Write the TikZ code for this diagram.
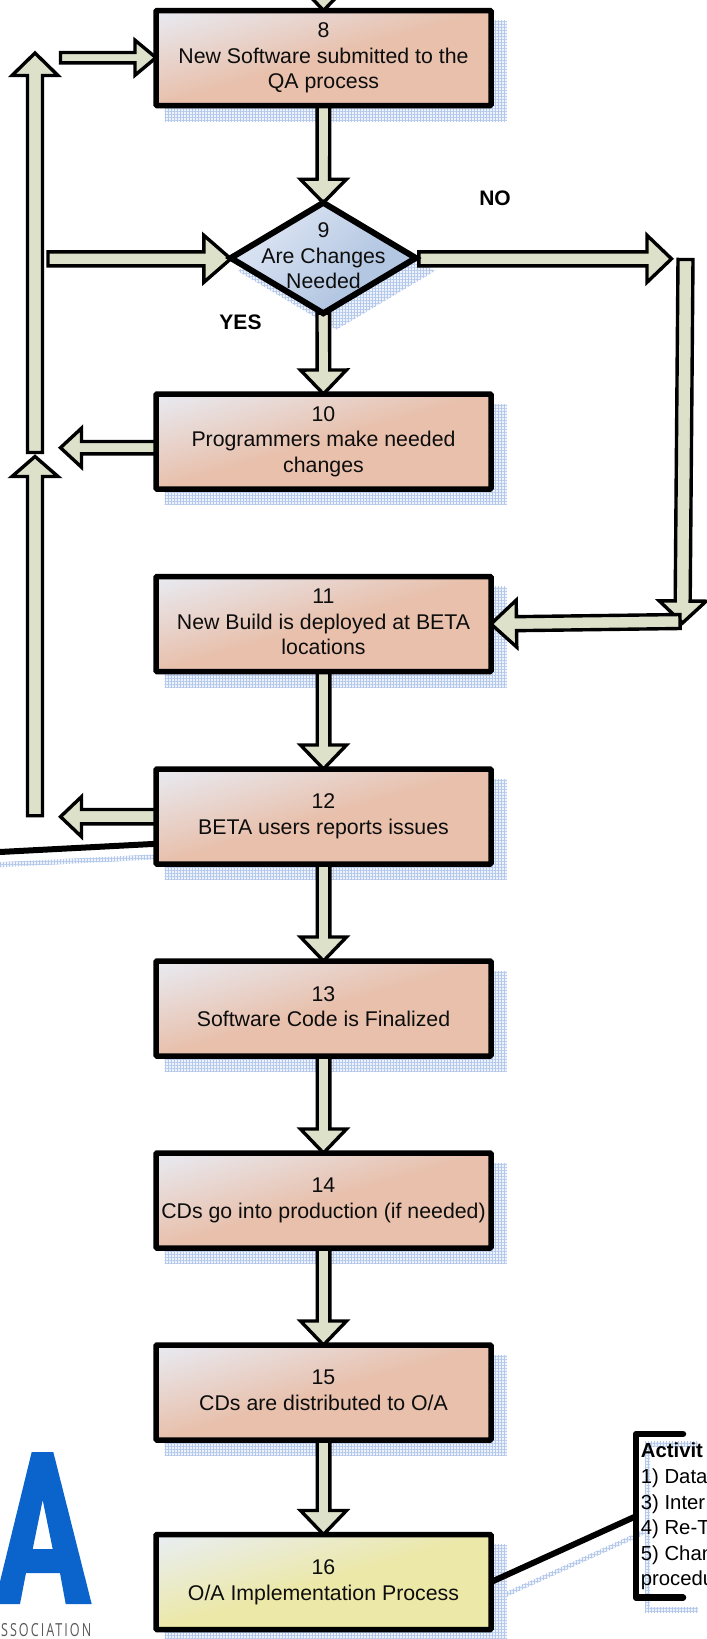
\documentclass[tikz,border=0pt]{standalone}
\usepackage{fontspec}
\setmainfont{Liberation Sans}
\newfontfamily\logofont[LetterSpace=16]{Open Sans}
\usetikzlibrary{calc,shapes.geometric,patterns.meta}
\definecolor{palepeach}{HTML}{E8EBF3}
\definecolor{peach}{HTML}{E8C0AC}
\definecolor{paleyellow}{HTML}{E8EEF4}
\definecolor{yellowish}{HTML}{ECE8A8}
\definecolor{paleblue}{HTML}{DEE6F4}
\definecolor{midblue}{HTML}{B4C7E2}
\definecolor{arrowfill}{HTML}{DDE1C9}
\definecolor{shadowgrid}{HTML}{B3C8EA}
\definecolor{shadowbase}{HTML}{EEF3FB}
\definecolor{logoblue}{HTML}{0A64CC}
\pgfdeclareverticalshading{peachshade}{100bp}{color(0bp)=(palepeach); color(19bp)=(palepeach); color(50bp)=(peach); color(100bp)=(peach)}
\pgfdeclareverticalshading{yellowshade}{100bp}{color(0bp)=(paleyellow); color(19bp)=(paleyellow); color(50bp)=(yellowish); color(100bp)=(yellowish)}
\pgfdeclareverticalshading{blueshade}{100bp}{color(0bp)=(paleblue); color(25bp)=(paleblue); color(62bp)=(midblue); color(100bp)=(midblue)}
\pgfdeclarelayer{shadowlayer}
\pgfdeclarelayer{arrowlayer}
\pgfsetlayers{shadowlayer,arrowlayer,main}
\newcommand{\firstlinerule}{\rule{0pt}{22pt}}
\newcommand{\lastlinerule}{\rule[-4.2pt]{0pt}{4.2pt}}
\tikzset{
  flowtext/.style={inner sep=0pt,align=center,text=black!95,font=\fontsize{21.3}{25.6}\selectfont,
    execute at begin node=\firstlinerule,execute at end node=\lastlinerule},
  flowbox/.style={flowtext,draw=black,line width=5.5pt,rounded corners=1pt,minimum width=335pt,minimum height=95pt,
    outer sep=0pt,shade,shading=peachshade,shading angle=-164},
  implbox/.style={flowbox,shading=yellowshade},
  decision/.style={diamond,draw=black,line width=6pt,minimum width=185pt,minimum height=110.5pt,aspect=1.67,
    inner sep=0pt,outer sep=0pt,shade,shading=blueshade,shading angle=-135},
  answer/.style={inner sep=0pt,text=black,font=\bfseries\fontsize{21}{24}\selectfont},
  activity/.style={inner sep=0pt,anchor=base west,text=black,font=\fontsize{20.3}{25.6}\selectfont},
  blockline/.style={draw=black,fill=arrowfill,line width=3.4pt,line join=miter,miter limit=10},
  leader/.style={draw=black,line width=6pt},
  shbase/.style={fill=shadowbase},
  shlineh/.style={pattern={Lines[angle=0,distance=3pt,line width=1pt]},pattern color=shadowgrid},
  shlinev/.style={pattern={Lines[angle=90,distance=3pt,line width=1pt]},pattern color=shadowgrid},
}
\newcommand{\softshadow}[1]{\fill[shbase] #1; \fill[shlineh] #1; \fill[shlinev] #1;}
\newcommand{\boxshadow}[1]{\softshadow{($(#1.north west)+(8.5,10.25)$) rectangle ($(#1.south east)+(15.75,15.75)$)}}
% from, to, shaft half width, head half width, head length
\newcommand{\blockarrow}[5]{\draw[blockline]
  ($(#1)!#3pt!90:(#2)$) --
  ($(#2)!#5pt!(#1)!#3pt!90:(#2)$) --
  ($(#2)!#5pt!(#1)!#4pt!90:(#2)$) --
  (#2) --
  ($(#2)!#5pt!(#1)!#4pt!-90:(#2)$) --
  ($(#2)!#5pt!(#1)!#3pt!-90:(#2)$) --
  ($(#1)!#3pt!-90:(#2)$) -- cycle;}
\begin{document}
\begin{tikzpicture}[x=1pt,y=-1pt]
\useasboundingbox (0,0) rectangle (707,1639);

% process boxes
\node[flowbox] (b8)  at (323.5,58)    {8\\New Software submitted to the\\QA process};
\node[decision] (d9) at (323.3,258)   {};
\node[flowtext] (d9t) at (323.5,258) {9\\Are Changes\\Needed};
\node[flowbox] (b10) at (323.5,441.5) {10\\Programmers make needed\\changes};
\node[flowbox] (b11) at (323.5,624)   {11\\New Build is deployed at BETA\\locations};
\node[flowbox] (b12) at (323.5,816.5) {12\\BETA users reports issues};
\node[flowbox] (b13) at (323.5,1008.5) {13\\Software Code is Finalized};
\node[flowbox] (b14) at (323.5,1200.5) {14\\CDs go into production (if needed)};
\node[flowbox] (b15) at (323.5,1392.5) {15\\CDs are distributed to O/A};
\node[implbox] (b16) at (323.5,1582)  {16\\O/A Implementation Process};

% labels
\node[answer] (no)  at (495,198) {NO};
\node[answer] (yes) at (240.5,322.5)   {YES};

% activities list, clipped by the page edge
\node[activity] (act0) at (640.7,1457.5) {\bfseries Activit};
\node[activity] (act1) at (640.7,1483.3) {1) Data};
\node[activity] (act2) at (640.7,1509)   {3) Inter};
\node[activity] (act3) at (640.7,1534)   {4) Re-T};
\node[activity] (act4) at (640.7,1560)   {5) Chan};
\node[activity] (act5) at (640.7,1585)   {procedu};

% free ends of connectors
\coordinate (topin) at (324,-60);
\coordinate (loopstub) at (60.5,57.7);
\coordinate (b8in) at (b8.west |- loopstub);
\coordinate (d9feed) at (48,258.8);
\coordinate (d9in) at ($(d9.west)+(0,0.8)$);
\coordinate (d9out) at ($(d9.east)+(3,0.8)$);
\coordinate (noturn) at (671.5,258.8);
\coordinate (rtop) at (685.5,259.5);
\coordinate (rbot) at (682.5,623);
\coordinate (rleft) at (680,621.5);
\coordinate (b10out) at ($(b10.west)+(0,6.2)$);
\coordinate (b10tip) at (60.5,447.7);
\coordinate (b12out) at (b12.west |- 0,816.7);
\coordinate (b12tip) at (60.5,816.7);
\coordinate (lowfoot) at (35,815.7);
\coordinate (lowtip) at (35,456.5);
\coordinate (upfoot) at (35,452.5);
\coordinate (uptip) at (35,53);
\coordinate (b12lead) at (b12.west |- 0,843.8);
\coordinate (offleft) at (-6,852.3);
\coordinate (bracket) at (636,1516.2);

\begin{pgfonlayer}{shadowlayer}
  \boxshadow{b8} \boxshadow{b10} \boxshadow{b11} \boxshadow{b12} \boxshadow{b13}
  \boxshadow{b14} \boxshadow{b15} \boxshadow{b16}
  \softshadow{($(d9.north)+(13,9.5)$) -- ($(d9.east)+(19,13)$) -- ($(d9.south)+(13,16.5)$) -- ($(d9.west)+(7,13)$) -- cycle}
  % shadows of the leader lines and of the bracket
  \softshadow{($(offleft)+(0,10.2)$) -- ($(b12lead)+(12,10)$) -- ($(b12lead)+(12,15)$) -- ($(offleft)+(0,15.2)$) -- cycle}
  \softshadow{($(b16.east)+(15,10)$) -- ($(bracket)+(11,12)$) -- ($(bracket)+(11,17)$) -- ($(b16.east)+(15,15)$) -- cycle}
  \softshadow{(645,1441.5) rectangle (698,1446.5)}
  \softshadow{(645,1441.5) rectangle (650,1612)}
  \softshadow{(645,1607) rectangle (698,1612)}
\end{pgfonlayer}

\begin{pgfonlayer}{arrowlayer}
  \blockarrow{topin}{b8.north}{6.3}{23}{24}
  \blockarrow{b8.south}{d9.north}{6.3}{23}{23.5}
  \blockarrow{d9.south}{b10.north}{6.3}{23}{24}
  \blockarrow{b11.south}{b12.north}{6.3}{23}{24}
  \blockarrow{b12.south}{b13.north}{6.3}{23}{24}
  \blockarrow{b13.south}{b14.north}{6.3}{23}{24}
  \blockarrow{b14.south}{b15.north}{6.3}{23}{24}
  \blockarrow{b15.south}{b16.north}{6.3}{23}{24}
  \blockarrow{loopstub}{b8in}{5.2}{17.5}{21}
  \blockarrow{d9feed}{d9in}{7}{23.5}{27}
  \blockarrow{d9out}{noturn}{7}{23.5}{24.5}
  \blockarrow{rtop}{rbot}{7.5}{23.5}{22}
  \blockarrow{rleft}{b11.east}{7}{23.5}{25.5}
  \blockarrow{b10out}{b10tip}{6.2}{19.5}{21}
  \blockarrow{b12out}{b12tip}{7.2}{20}{21}
  \blockarrow{upfoot}{uptip}{7.5}{23}{22.5}
  \blockarrow{lowfoot}{lowtip}{7.5}{23}{20}
  \draw[leader] (b12lead) -- (offleft);
  \draw[leader] (b16.east) -- (bracket);
\end{pgfonlayer}

% bracket round the activities list
\draw[line width=6.5pt,line join=round,line cap=round] (683,1434) -- (636,1434) -- (636,1597.7) -- (683,1597.7);

% logo
\fill[logoblue,even odd rule] (31.7,1452) -- (53.3,1452) -- (91.7,1604) -- (65.7,1604) -- (60,1573) -- (26,1573)
  -- (20,1604) -- (-5.5,1604) -- cycle
  (42.7,1500) -- (52.7,1549) -- (32.7,1549) -- cycle;
\begin{scope}
  \clip (0,1610) rectangle (92,1639);
  \node[inner sep=0pt,anchor=base west,xscale=.7,text=black!65,font=\logofont\fontsize{18}{20}\selectfont] (logotext) at (1,1636) {SSOCIATION};
\end{scope}
\end{tikzpicture}
\end{document}
